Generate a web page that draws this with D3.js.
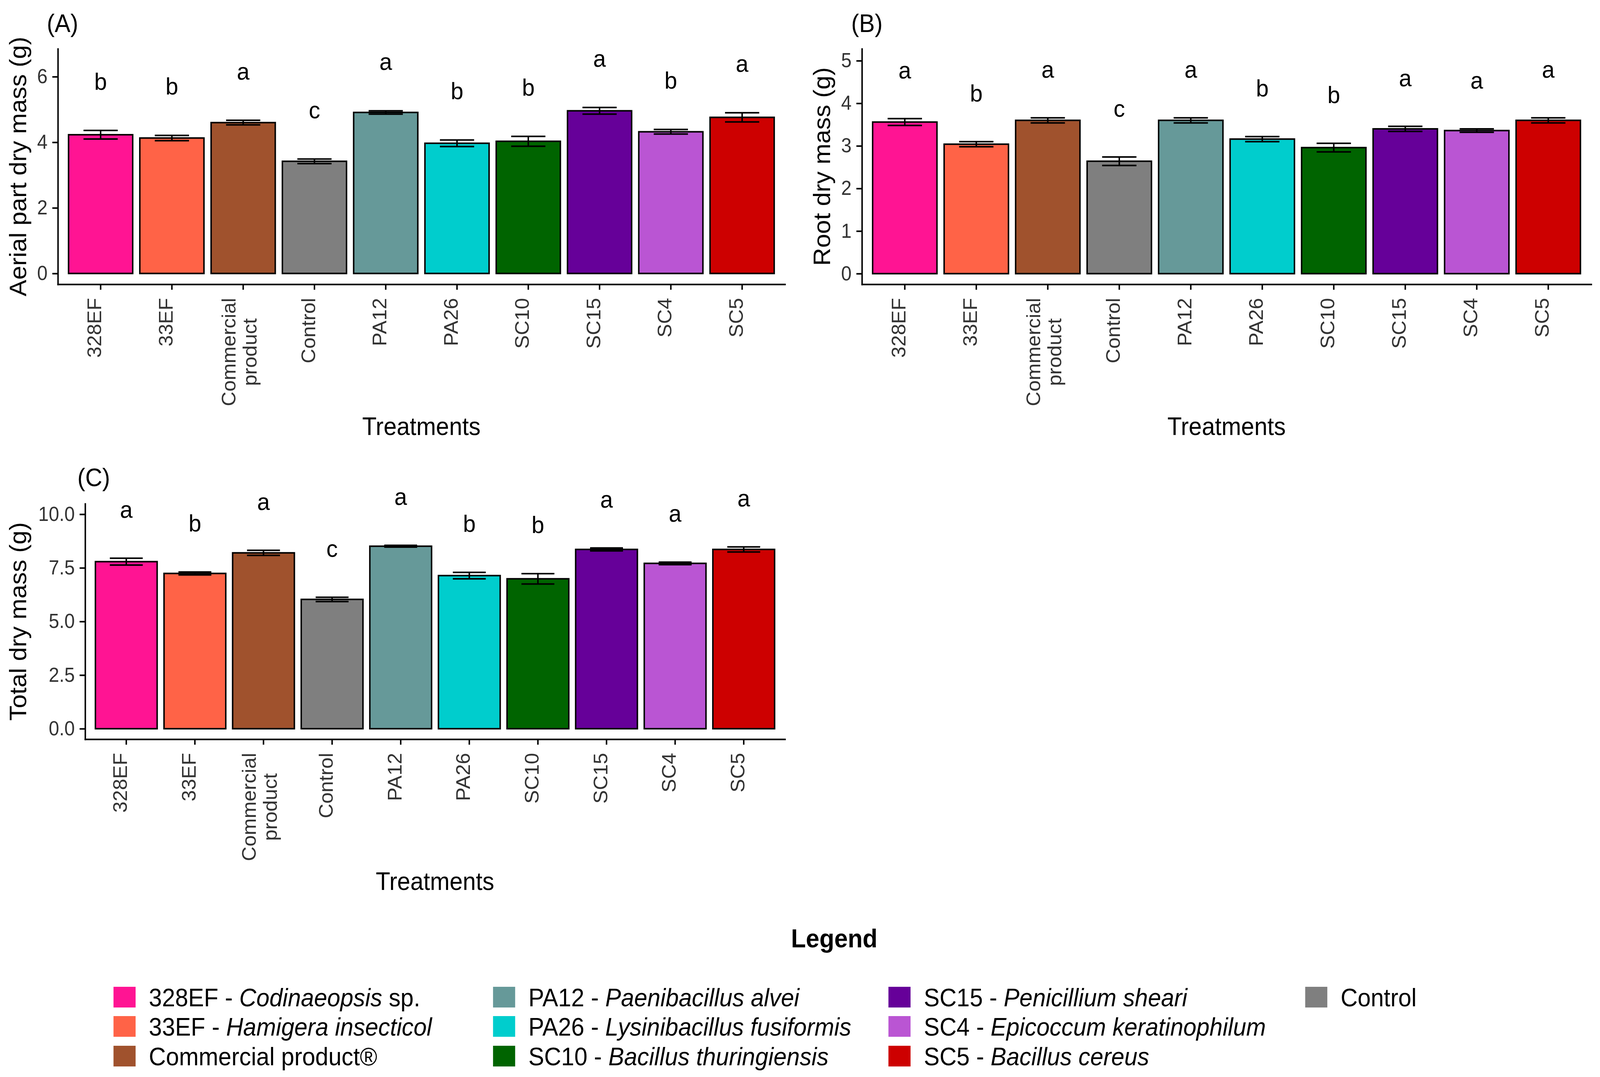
<!DOCTYPE html>
<html>
<head>
<meta charset="utf-8">
<script src="https://cdn.jsdelivr.net/npm/d3@7"></script>
<style>
  html, body { margin: 0; padding: 0; background: #fff; overflow: hidden; }
  #chart { display: block; width: 100vw; height: 100vh; }
  text { font-family: "Liberation Sans", Arial, sans-serif; }
</style>
</head>
<body>
<!-- drawn in the reference's 4342x2758 units, stretched to whatever window we get -->
<svg id="chart" viewBox="0 0 4342 2758" preserveAspectRatio="none"></svg>
<script>
// treatments, in x-axis order
var categories = ["328EF", "33EF", "Commercial product", "Control", "PA12", "PA26", "SC10", "SC15", "SC4", "SC5"];
var tickLabels = [["328EF"], ["33EF"], ["Commercial", "product"], ["Control"], ["PA12"], ["PA26"], ["SC10"], ["SC15"], ["SC4"], ["SC5"]];
var colors = ["#FF1493", "#FF6347", "#A0522D", "#7F7F7F", "#669999", "#00CDCD", "#006400", "#660099", "#BA55D3", "#CD0000"];

// (A) aerial part dry mass
var aerialMean = [4.23, 4.13, 4.60, 3.42, 4.91, 3.97, 4.03, 4.96, 4.32, 4.76];
var aerialErr = [0.13, 0.08, 0.07, 0.07, 0.05, 0.10, 0.15, 0.10, 0.07, 0.14];
var aerialLetters = ["b", "b", "a", "c", "a", "b", "b", "a", "b", "a"];

// (B) root dry mass
var rootMean = [3.56, 3.04, 3.60, 2.64, 3.60, 3.16, 2.96, 3.40, 3.36, 3.60];
var rootErr = [0.08, 0.06, 0.06, 0.10, 0.06, 0.06, 0.10, 0.06, 0.04, 0.06];
var rootLetters = ["a", "b", "a", "c", "a", "b", "b", "a", "a", "a"];

// (C) total dry mass
var totalMean = [7.79, 7.24, 8.20, 6.03, 8.51, 7.14, 6.99, 8.36, 7.71, 8.36];
var totalErr = [0.16, 0.07, 0.12, 0.10, 0.04, 0.15, 0.24, 0.07, 0.06, 0.12];
var totalLetters = ["a", "b", "a", "c", "a", "b", "b", "a", "a", "a"];

var aerialTicks = [0, 2, 4, 6];
var rootTicks = [0, 1, 2, 3, 4, 5];
var totalTicks = [0, 2.5, 5, 7.5, 10];

// legend: [code part, italic species, tail], laid out column by column
var legendOrder = ["328EF", "33EF", "Commercial product", "PA12", "PA26", "SC10", "SC15", "SC4", "SC5", "Control"];
var legendLabels = [
    ["328EF - ", "Codinaeopsis", " sp."],
    ["33EF - ", "Hamigera insecticol", ""],
    ["Commercial product\u00AE", "", ""],
    ["PA12 - ", "Paenibacillus alvei", ""],
    ["PA26 - ", "Lysinibacillus fusiformis", ""],
    ["SC10 - ", "Bacillus thuringiensis", ""],
    ["SC15 - ", "Penicillium sheari", ""],
    ["SC4 - ", "Epicoccum keratinophilum", ""],
    ["SC5 - ", "Bacillus cereus", ""],
    ["Control", "", ""]
];

var svg = d3.select("#chart");
var colorOf = d3.scaleOrdinal().domain(categories).range(colors);

var panels = [
    {tag: "(A)", title: "Aerial part dry mass (g)", mean: aerialMean, err: aerialErr, letters: aerialLetters,
     ticks: aerialTicks, fmt: d3.format("d"), domain: [-0.33, 6.85], offset: 1.5,
     left: 157, right: 2130, top: 125, bottom: 728, tagX: 127, tagY: 82, titleX: 71},
    {tag: "(B)", title: "Root dry mass (g)", mean: rootMean, err: rootErr, letters: rootLetters,
     ticks: rootTicks, fmt: d3.format("d"), domain: [-0.25, 5.28], offset: 1.14,
     left: 2339, right: 4318, top: 125, bottom: 728, tagX: 2310, tagY: 82, titleX: 2253},
    {tag: "(C)", title: "Total dry mass (g)", mean: totalMean, err: totalErr, letters: totalLetters,
     ticks: totalTicks, fmt: d3.format(".1f"), domain: [-0.49, 10.49], offset: 2.28,
     left: 231, right: 2130, top: 1290, bottom: 1893, tagX: 210, tagY: 1245, titleX: 71}
];

panels.forEach(drawPanel);
drawLegend();

function drawPanel(p) {
    var g = svg.append("g");
    var rows = categories.map((c, i) => ({cat: c, mean: p.mean[i], err: p.err[i], letter: p.letters[i], label: tickLabels[i]}));

    var x = d3.scaleBand()
        .domain(categories)
        .range([p.left, p.right])
        .paddingInner(0.1)
        .paddingOuter(0.15);
    var y = d3.scaleLinear()
        .domain(p.domain)
        .range([p.bottom, p.top]);
    var cx = d => x(d.cat) + x.bandwidth() / 2;
    var capHalf = x.step() * 0.24;

    g.selectAll(".bar")
        .data(rows)
        .join("rect")
        .attr("class", "bar")
        .attr("x", d => x(d.cat))
        .attr("width", x.bandwidth())
        .attr("y", d => y(d.mean))
        .attr("height", d => y(0) - y(d.mean))
        .attr("fill", d => colorOf(d.cat))
        .attr("stroke", "#000")
        .attr("stroke-width", 4);

    var eb = g.selectAll(".errbar")
        .data(rows)
        .join("g")
        .attr("class", "errbar")
        .attr("stroke", "#000")
        .attr("stroke-width", 4);
    eb.append("line")
        .attr("x1", cx).attr("x2", cx)
        .attr("y1", d => y(d.mean - d.err))
        .attr("y2", d => y(d.mean + d.err));
    eb.append("line")
        .attr("x1", d => cx(d) - capHalf).attr("x2", d => cx(d) + capHalf)
        .attr("y1", d => y(d.mean + d.err)).attr("y2", d => y(d.mean + d.err));
    eb.append("line")
        .attr("x1", d => cx(d) - capHalf).attr("x2", d => cx(d) + capHalf)
        .attr("y1", d => y(d.mean - d.err)).attr("y2", d => y(d.mean - d.err));

    g.selectAll(".letter")
        .data(rows)
        .join("text")
        .attr("class", "letter")
        .attr("x", cx)
        .attr("y", d => y(d.mean + d.err + p.offset))
        .attr("text-anchor", "middle")
        .attr("dominant-baseline", "central")
        .attr("font-size", 62)
        .attr("fill", "#000")
        .text(d => d.letter);

    // axes
    var yAxis = g.append("g")
        .attr("transform", `translate(${p.left},0)`)
        .call(d3.axisLeft(y).tickValues(p.ticks).tickFormat(p.fmt).tickSize(15).tickSizeOuter(0).tickPadding(13));
    var xAxis = g.append("g")
        .attr("transform", `translate(0,${p.bottom})`)
        .call(d3.axisBottom(x).tickSize(14).tickSizeOuter(0).tickFormat(""));
    [yAxis, xAxis].forEach(a => {
        a.select(".domain").attr("stroke", "#000").attr("stroke-width", 4).attr("stroke-linecap", "square");
        a.selectAll(".tick line").attr("stroke", "#000").attr("stroke-width", 4);
    });
    yAxis.selectAll(".tick text")
        .attr("font-size", 51)
        .attr("fill", "#333")
        .attr("font-family", "Liberation Sans, Arial, sans-serif");

    // rotated category labels
    var labTop = p.bottom + 35;
    var labelG = g.selectAll(".xlab")
        .data(rows)
        .join("text")
        .attr("class", "xlab")
        .attr("font-size", 52)
        .attr("fill", "#333");
    labelG.each(function (d) {
        var t = d3.select(this);
        var tx = cx(d);
        if (d.label.length === 1) {
            t.attr("text-anchor", "end")
                .attr("transform", `translate(${tx + 2},${labTop}) rotate(-90)`)
                .text(d.label[0]);
        } else {
            t.attr("text-anchor", "middle");
            var spans = t.selectAll("tspan")
                .data(d.label)
                .join("tspan")
                .attr("x", 0)
                .attr("y", (s, i) => (i - (d.label.length - 1) / 2) * 57 + 8)
                .text(s => s);
            var maxLen = d3.max(spans.nodes(), n => n.getComputedTextLength());
            t.attr("transform", `translate(${tx},${labTop + maxLen / 2}) rotate(-90)`);
        }
    });

    // titles
    g.append("text")
        .attr("x", (p.left + p.right) / 2)
        .attr("y", p.bottom + 386)
        .attr("text-anchor", "middle")
        .attr("font-size", 64)
        .attr("fill", "#000")
        .text("Treatments");
    g.append("text")
        .attr("transform", `translate(${p.titleX},${(p.top + p.bottom) / 2}) rotate(-90)`)
        .attr("text-anchor", "middle")
        .attr("font-size", 64)
        .attr("fill", "#000")
        .text(p.title);
    g.append("text")
        .attr("x", p.tagX)
        .attr("y", p.tagY)
        .attr("font-size", 64)
        .attr("fill", "#000")
        .text(p.tag);
}

function drawLegend() {
    var g = svg.append("g");
    g.append("text")
        .attr("x", 2264)
        .attr("y", 2426)
        .attr("text-anchor", "middle")
        .attr("font-size", 66)
        .attr("font-weight", "bold")
        .attr("fill", "#000")
        .text("Legend");

    var colX = [308, 1338, 2411, 3542];
    var rowY = [2553, 2628, 2704];
    var items = legendOrder.map((c, i) => ({cat: c, parts: legendLabels[i], col: Math.floor(i / 3), row: i % 3}));

    var item = g.selectAll(".legend-item")
        .data(items)
        .join("g")
        .attr("class", "legend-item")
        .attr("transform", d => `translate(${colX[d.col]},${rowY[d.row]})`);
    item.append("rect")
        .attr("x", 0)
        .attr("y", -26)
        .attr("width", 60)
        .attr("height", 53)
        .attr("fill", d => colorOf(d.cat));
    var label = item.append("text")
        .attr("x", 96)
        .attr("y", 24)
        .attr("font-size", 64)
        .attr("fill", "#000");
    label.append("tspan").text(d => d.parts[0]);
    label.append("tspan").attr("font-style", "italic").text(d => d.parts[1]);
    label.append("tspan").text(d => d.parts[2]);
}
</script>
</body>
</html>
